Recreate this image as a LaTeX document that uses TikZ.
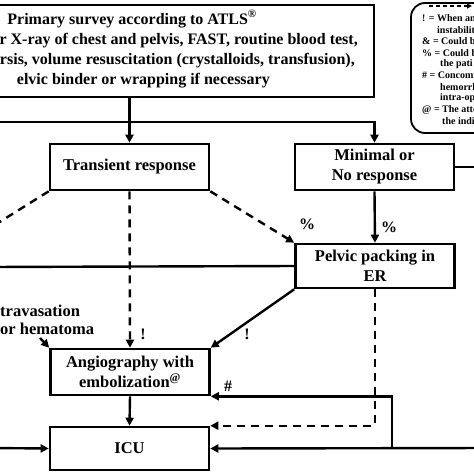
\documentclass[tikz,border=0pt]{standalone}
\usepackage{fontspec}
\setmainfont{Liberation Serif}
\usetikzlibrary{arrows.meta}

\begin{document}
\begin{tikzpicture}[x=1pt,y=-1pt,
    txt/.style={font=\fontsize{16.5}{20}\selectfont\bfseries,inner sep=0pt},
    survtxt/.style={txt,font=\fontsize{16}{20}\selectfont\bfseries,anchor=east,text height=12pt,text depth=4pt},
    box/.style={txt,draw,line width=2.6pt,align=center,
      minimum width=159pt,minimum height=46pt},
    link/.style={line width=2.4pt},
    arr/.style={link,-{Triangle[length=8pt,width=8pt]}},
    dashedlink/.style={dash pattern=on 8pt off 6pt},
    tag/.style={font=\fontsize{16}{18}\selectfont\bfseries,inner sep=0pt},
    key/.style={font=\fontsize{10}{11.4}\selectfont\bfseries,inner sep=0pt,anchor=west}]
  \useasboundingbox (0,0) rectangle (474,474);
  \clip (0,0) rectangle (474,474);

  % survey box, cut on the left
  \node [box,minimum width=440pt,minimum height=92pt] (survey) at (154,51) {};
  \node [survtxt] (s1) at (257,20) {Primary survey according to ATLS\textsuperscript{\textregistered}};
  \node [survtxt] (s2) at (358,40) {r X-ray of chest and pelvis, FAST, routine blood test,};
  \node [survtxt] (s3) at (355,60) {rsis, volume resuscitation (crystalloids, transfusion),};
  \node [survtxt] (s4) at (270,80) {elvic binder or wrapping if necessary};

  \node [box] (trans) at (129.5,167) {Transient response};
  \node [box] (minimal) at (374.5,167) {Minimal or\\No response};
  \node [box,minimum height=44pt] (pelvic) at (375,266) {Pelvic packing in\\ER};
  \node [box] (angio) at (130,372) {Angiography with\\embolization\textsuperscript{@}};
  \node [box,minimum height=43pt] (icu) at (129.5,448.5) {ICU};
  \node [txt,font=\fontsize{16.5}{18}\selectfont\bfseries,align=left,anchor=west] (extrav) at (0,320) {travasation\\or hematoma};

  % legend, cut on the right
  \node [draw,line width=1.8pt,rounded corners=14pt,minimum width=130pt,minimum height=130pt] (legend) at (476,68) {};
  \coordinate (k0) at (429,6);
  \coordinate (k1) at (472,6);
  \draw [line width=1.2pt,dash pattern=on 4pt off 3pt,-{Triangle[length=5pt,width=5pt]}] (k0) -- (k1);
  \node [key] (r1) at (422,18.4) {! = When an};
  \node [key] (r2) at (437,29.8) {instabilit};
  \node [key] (r3) at (422,41.2) {\& = Could b};
  \node [key] (r4) at (422,52.6) {\% = Could b};
  \node [key] (r5) at (440,64) {the pati};
  \node [key] (r6) at (422,75.4) {\# = Concomi};
  \node [key] (r7) at (440,86.8) {hemorrh};
  \node [key] (r8) at (440,98.2) {intra-op};
  \node [key] (r9) at (422,109.6) {@ = The atte};
  \node [key] (r10) at (442,121) {the indi};

  % connectors
  \coordinate (wleft) at (-10,122);
  \coordinate (eright) at (490,167);
  \coordinate (swout) at (-10,228);
  \coordinate (pwest) at (-10,267);
  \coordinate (exstart) at (40,338);
  \coordinate (ileft) at (-10,448);
  \coordinate (iright) at (490,448);
  \coordinate (branch) at (392,448);
  \draw [arr] (survey.south -| trans.north) -- (trans.north);
  \draw [arr] (wleft) -| (minimal.north);
  \draw [link] (minimal.east) -- (eright);
  \draw [arr] (minimal.south) -- (pelvic.north);
  \draw [arr,dashedlink] (trans.south east) -- (pelvic.north west);
  \draw [link,dashedlink] (trans.south west) -- (swout);
  \draw [arr,dashedlink] (trans.south) -- (angio.north);
  \draw [link] (pelvic.west) -- (pwest);
  \draw [arr] (pelvic.south west) -- (angio.north east);
  \draw [arr] (exstart) -- (angio.north west);
  \draw [arr] (angio.south) -- (icu.north);
  \draw [arr,dashedlink] (pelvic.south) |- (icu.north east);
  \draw [arr] (ileft) -- (icu.west);
  \draw [arr] (iright) -- (icu.east);
  \draw [arr] (branch) |- (angio.south east);

  % labels
  \node [tag] (pct1) at (307,224) {\%};
  \node [tag] (pct2) at (389,227) {\%};
  \node [tag] (bang1) at (143,334) {!};
  \node [tag] (bang2) at (247,334) {!};
  \node [tag] (hash) at (228,386) {\#};
\end{tikzpicture}
\end{document}
